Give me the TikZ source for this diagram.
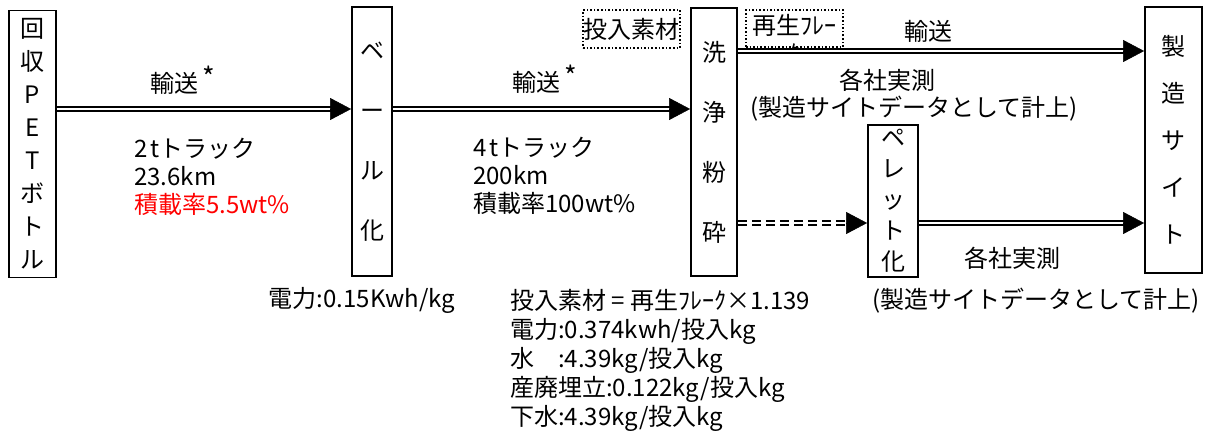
\documentclass[tikz,border=0pt]{standalone}
\usepackage{fontspec}
\setmainfont{Noto Sans CJK JP}
\usepackage{xcolor}
\usepackage{tikz}
\usetikzlibrary{arrows.meta,calc,positioning}

\tikzset{
  box/.style={rectangle,draw,line width=1.8pt,text centered,align=center,inner sep=0pt},
  tag/.style={rectangle,draw,dotted,line width=1.6pt,inner sep=0pt},
  flow/.style={double,double distance=1.8pt,line width=1.9pt,shorten >=19pt},
  head/.style={-{Triangle[length=21pt,width=22pt]},line width=0.5pt},
  lbl/.style={inner sep=0pt,align=left}
}

\newcommand{\asterisk}{\hspace{4pt}\raisebox{5pt}{\fontsize{27pt}{27pt}\selectfont *}}

\begin{document}
\begin{tikzpicture}[x=1pt,y=-1pt,font=\fontsize{24pt}{28pt}\selectfont]
        \useasboundingbox (0,0) rectangle (1210,434);
        % Nodes
        \node(pet) at (32.5,144)[box,minimum width=47pt,minimum height=267pt,font=\fontsize{24pt}{33pt}\selectfont] {回\\収\\P\\E\\T\\ボ\\ト\\ル};
        \node(bale) at (372,141.5)[box,minimum width=40pt,minimum height=269pt,font=\fontsize{24pt}{60pt}\selectfont] {ベ\\ー\\ル\\化};
        \node(wash) at (714,142)[box,minimum width=46pt,minimum height=268pt,font=\fontsize{24pt}{60pt}\selectfont] {洗\\浄\\粉\\砕};
        \node(pellet) at (893,201)[box,minimum width=50pt,minimum height=152pt,font=\fontsize{24pt}{31pt}\selectfont] {ペ\\レ\\ッ\\ト\\化};
        \node(site) at (1173.5,140)[box,minimum width=57pt,minimum height=266pt,font=\fontsize{24pt}{47pt}\selectfont] {製\\造\\サ\\イ\\ト};
        \node(input) at (631.5,29)[tag,minimum width=97pt,minimum height=38pt] {投入素材};
        \node(flakebox) at (794.5,28.5)[tag,minimum width=97pt,minimum height=37pt] {};
        \begin{scope}
          \clip (flakebox.south west) rectangle (flakebox.north east);
          \node(flake) at (794.5,39)[inner sep=0pt,align=center] {再生ﾌﾚｰ\\ｸ};
        \end{scope}
        % Labels
        \node(tr1) at (183,80)[inner sep=0pt] {輸送\asterisk};
        \node(truck1) at (134,177)[lbl,anchor=west] {2\hspace{3pt}tトラック\\23.6km\\\textcolor{red}{積載率5.5wt\%}};
        \node(tr2) at (545,79)[inner sep=0pt] {輸送\asterisk};
        \node(truck2) at (473,176)[lbl,anchor=west] {4\hspace{3pt}tトラック\\200km\\積載率100wt\%};
        \node(tr3) at (928,31)[inner sep=0pt] {輸送};
        \node(meas1) at (887,80)[inner sep=0pt] {各社実測};
        \node(note1) at (914,109)[inner sep=0pt] {(製造サイトデータとして計上)};
        \node(meas2) at (1012,258)[inner sep=0pt] {各社実測};
        \node(note2) at (1036,301)[inner sep=0pt] {(製造サイトデータとして計上)};
        \node(power) at (362,300)[inner sep=0pt] {電力:0.15Kwh/kg};
        \node(usage) at (510,360)[lbl,anchor=west,font=\fontsize{24pt}{29pt}\selectfont] {投入素材 = 再生ﾌﾚｰｸ×1.139\\電力:0.374kwh/投入kg\\水　:4.39kg/投入kg\\産廃埋立:0.122kg/投入kg\\下水:4.39kg/投入kg};
        % Links
        \draw[flow] (pet.east |- 0,109) -- (bale.west |- 0,109);
        \draw[head] ($(bale.west |- 0,109)+(-21,0)$) -- (bale.west |- 0,109);
        \draw[flow] (bale.east |- 0,109) -- (wash.west |- 0,109);
        \draw[head] ($(wash.west |- 0,109)+(-21,0)$) -- (wash.west |- 0,109);
        \draw[flow] (wash.east |- 0,51) -- (site.west |- 0,51);
        \draw[head] ($(site.west |- 0,51)+(-21,0)$) -- (site.west |- 0,51);
        \draw[flow,dash pattern=on 9pt off 5pt] (wash.east |- 0,223) -- (pellet.west |- 0,223);
        \draw[head] ($(pellet.west |- 0,223)+(-21,0)$) -- (pellet.west |- 0,223);
        \draw[flow] (pellet.east |- 0,223) -- (site.west |- 0,223);
        \draw[head] ($(site.west |- 0,223)+(-21,0)$) -- (site.west |- 0,223);
    \end{tikzpicture}
\end{document}
